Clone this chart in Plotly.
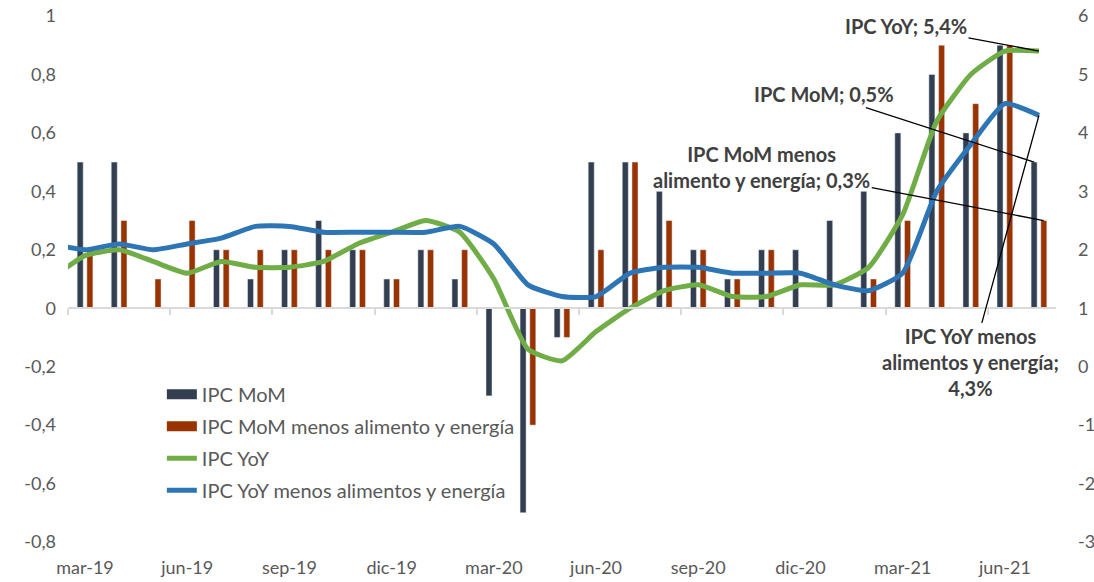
import plotly.graph_objects as go

# months (feb-19 only feeds the lines, it sits just left of the visible range)
meses = ['feb-19', 'mar-19', 'abr-19', 'may-19', 'jun-19', 'jul-19', 'ago-19', 'sep-19', 'oct-19',
         'nov-19', 'dic-19', 'ene-20', 'feb-20', 'mar-20', 'abr-20', 'may-20', 'jun-20', 'jul-20',
         'ago-20', 'sep-20', 'oct-20', 'nov-20', 'dic-20', 'ene-21', 'feb-21', 'mar-21', 'abr-21',
         'may-21', 'jun-21', 'jul-21']
pos = list(range(-1, len(meses) - 1))

# monthly changes (%), left axis
ipc_mom = [None, 0.5, 0.5, 0.0, 0.0, 0.2, 0.1, 0.2, 0.3, 0.2, 0.1, 0.2, 0.1, -0.3, -0.7, -0.1,
           0.5, 0.5, 0.4, 0.2, 0.1, 0.2, 0.2, 0.3, 0.4, 0.6, 0.8, 0.6, 0.9, 0.5]
core_mom = [None, 0.2, 0.3, 0.1, 0.3, 0.2, 0.2, 0.2, 0.2, 0.2, 0.1, 0.2, 0.2, 0.0, -0.4, -0.1,
            0.2, 0.5, 0.3, 0.2, 0.1, 0.2, 0.0, 0.0, 0.1, 0.3, 0.9, 0.7, 0.9, 0.3]

# yearly changes (%), right axis
ipc_yoy = [1.5, 1.9, 2.0, 1.8, 1.6, 1.8, 1.7, 1.7, 1.8, 2.1, 2.3, 2.5, 2.3, 1.5, 0.3, 0.1,
           0.6, 1.0, 1.3, 1.4, 1.2, 1.2, 1.4, 1.4, 1.7, 2.6, 4.2, 5.0, 5.4, 5.4]
core_yoy = [2.1, 2.0, 2.1, 2.0, 2.1, 2.2, 2.4, 2.4, 2.3, 2.3, 2.3, 2.3, 2.4, 2.1, 1.4, 1.2,
            1.2, 1.6, 1.7, 1.7, 1.6, 1.6, 1.6, 1.4, 1.3, 1.6, 3.0, 3.8, 4.5, 4.3]

x_labels = ['mar-19', 'jun-19', 'sep-19', 'dic-19', 'mar-20', 'jun-20', 'sep-20', 'dic-20', 'mar-21', 'jun-21']
left_ticks = [1, 0.8, 0.6, 0.4, 0.2, 0, -0.2, -0.4, -0.6, -0.8]
left_text = ['1', '0,8', '0,6', '0,4', '0,2', '0', '-0,2', '-0,4', '-0,6', '-0,8']
right_ticks = [6, 5, 4, 3, 2, 1, 0, -1, -2, -3]
right_text = ['6', '5', '4', '3', '2', '1', '0', '-1', '-2', '-3']

FONT = 'Lato'
GREY = '#595959'
NAVY = '#333F50'
RUST = '#993300'
GREEN = '#70AD47'
BLUE = '#2E75B6'

fig = go.Figure()
fig.add_trace(go.Bar(x=pos, y=ipc_mom, name='IPC MoM', marker_color=NAVY, showlegend=False))
fig.add_trace(go.Bar(x=pos, y=core_mom, name='IPC MoM menos alimento y energía',
                     marker_color=RUST, showlegend=False))
fig.add_trace(go.Scatter(x=pos, y=ipc_yoy, name='IPC YoY', mode='lines',
                         line=dict(color=GREEN, width=5, shape='spline', smoothing=0.5),
                         xaxis='x2', yaxis='y2', legendgroup='c', legendrank=3))
fig.add_trace(go.Scatter(x=pos, y=core_yoy, name='IPC YoY menos alimentos y energía', mode='lines',
                         line=dict(color=BLUE, width=5, shape='spline', smoothing=0.5),
                         xaxis='x2', yaxis='y2', legendgroup='d', legendrank=4))

# wide rectangle swatches for the bar series, like the original legend
fig.add_trace(go.Scatter(x=[None], y=[None], mode='lines', name='IPC MoM',
                         line=dict(color=NAVY, width=10), legendgroup='a', legendrank=1))
fig.add_trace(go.Scatter(x=[None], y=[None], mode='lines', name='IPC MoM menos alimento y energía',
                         line=dict(color=RUST, width=10), legendgroup='b', legendrank=2))

xr = [-0.5, 28.5]
fig.update_layout(
    width=1094, height=582,
    margin=dict(l=68, r=38, t=16, b=40, autoexpand=False),
    plot_bgcolor='white', paper_bgcolor='white',
    font=dict(family=FONT, size=18, color=GREY),
    barmode='group', bargap=0.43, bargroupgap=0.38,
    xaxis=dict(range=xr, tickvals=list(range(0, 28, 3)), ticktext=x_labels,
               showgrid=False, zeroline=False, showline=False, ticks='',
               ticklabelstandoff=13, automargin=False),
    xaxis2=dict(range=xr, overlaying='x', anchor='free', position=0.8 / 1.8,
                tickvals=[v - 0.5 for v in range(0, 28, 3)], showticklabels=False,
                showgrid=False, zeroline=False, showline=True, linecolor='#D9D9D9', linewidth=2,
                ticks='outside', ticklen=6, tickwidth=2, tickcolor='#D9D9D9', automargin=False),
    yaxis=dict(range=[-0.8, 1], tickvals=left_ticks, ticktext=left_text,
               showgrid=False, zeroline=False, ticklabelstandoff=11, automargin=False),
    yaxis2=dict(range=[-3, 6], tickvals=right_ticks, ticktext=right_text, overlaying='y',
                side='right', anchor='x', showgrid=False, zeroline=False,
                ticklabelstandoff=21, automargin=False),
    legend=dict(x=0.095, y=0.318, xanchor='left', yanchor='top', bgcolor='rgba(0,0,0,0)',
                traceorder='grouped', tracegroupgap=3, font=dict(size=20, color=GREY)),
)

note = dict(showarrow=True, arrowhead=0, arrowwidth=1.3, arrowcolor='black',
            font=dict(family=FONT, size=20, color='#404040'), align='center')
fig.add_annotation(x=28, y=5.4, xref='x2', yref='y2', text='<b>IPC YoY; 5,4%</b>',
                   ax=-133, ay=-25, **note)
fig.add_annotation(x=27.86, y=0.5, xref='x', yref='y', text='<b>IPC MoM; 0,5%</b>',
                   ax=-210, ay=-68, **note)
fig.add_annotation(x=28.14, y=0.3, xref='x', yref='y',
                   text='<b>IPC MoM menos<br>alimento y energía; 0,3%</b>',
                   ax=-282, ay=-54, **note)
fig.add_annotation(x=28, y=4.3, xref='x2', yref='y2',
                   text='<b>IPC YoY menos<br>alimentos y energía;<br>4,3%</b>',
                   ax=-68, ay=247, **note)

# the page's default body margin would push the 1094x582 figure off the window
fig.write_html('out.html', config={'displayModeBar': False},
               post_script="document.body.style.margin='0';")
